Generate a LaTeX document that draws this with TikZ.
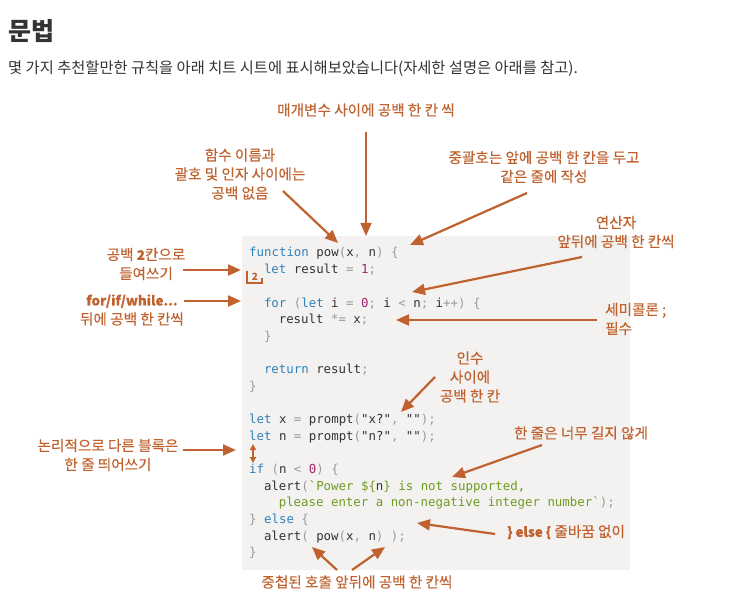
\documentclass[tikz,border=0pt]{standalone}
\usepackage{fontspec}
\setmainfont{Noto Sans CJK KR}
\setmonofont{DejaVu Sans Mono}
\newfontfamily\notefont{Noto Sans CJK KR}[FakeBold=0.35]
\usetikzlibrary{arrows.meta}

\definecolor{noteColor}{HTML}{C0622F}
\definecolor{codeBack}{HTML}{F3F2F0}
\definecolor{jsIdent}{HTML}{333333}
\definecolor{jsKeyword}{HTML}{2F82BA}
\definecolor{jsPunct}{HTML}{9A9A9A}
\definecolor{jsNumber}{HTML}{A0266E}
\definecolor{jsString}{HTML}{6E9B22}

\newcommand\jsKw[1]{\textcolor{jsKeyword}{#1}}
\newcommand\jsPn[1]{\textcolor{jsPunct}{#1}}
\newcommand\jsNum[1]{\textcolor{jsNumber}{#1}}
\newcommand\jsStr[1]{\textcolor{jsString}{#1}}
\newcommand\noteBold[1]{{\fontsize{13.4}{19}\selectfont\bfseries #1}}

\tikzset{
    note/.style={
        text=noteColor,
        font=\notefont\fontsize{14.6}{19}\selectfont,
        align=center,
        inner sep=0pt
    },
    pointer/.style={
        draw=noteColor,
        line width=2.2pt,
        -{Triangle[length=13pt,width=11pt]}
    },
    codeline/.style={
        anchor=base west,
        inner sep=0pt,
        text=jsIdent,
        font=\ttfamily\fontsize{12.4}{16}\selectfont
    }
}

\begin{document}
\begin{tikzpicture}[x=1pt,y=-1pt]
\useasboundingbox (0,0) rectangle (729,615);

% heading
\node[anchor=base west, inner sep=0pt, text=jsIdent,
      font=\fontsize{25}{28}\selectfont\bfseries] (title) at (8,41) {문법};
\node[anchor=base west, inner sep=0pt, text=jsIdent,
      font=\fontsize{15.3}{18}\selectfont] (intro) at (8,74)
    {몇 가지 추천할만한 규칙을 아래 치트 시트에 표시해보았습니다(자세한 설명은 아래를 참고).};

% code sheet
\fill[codeBack] (242,236) rectangle (630,570);

\node[codeline] (l1) at (249,257.0) {\jsKw{function} pow\jsPn{(}x\jsPn{,} n\jsPn{)} \jsPn{\{}};
\node[codeline] (l2) at (263.8,273.6) {\jsKw{let} result \jsPn{=} \jsNum{1}\jsPn{;}};
\node[codeline] (l4) at (263.8,307.0) {\jsKw{for} \jsPn{(}\jsKw{let} i \jsPn{=} \jsNum{0}\jsPn{;} i \jsPn{<} n\jsPn{;} i\jsPn{++)} \jsPn{\{}};
\node[codeline] (l5) at (278.6,323.6) {result \jsPn{*=} x\jsPn{;}};
\node[codeline] (l6) at (263.8,340.3) {\jsPn{\}}};
\node[codeline] (l8) at (263.8,373.6) {\jsKw{return} result\jsPn{;}};
\node[codeline] (l9) at (249,390.2) {\jsPn{\}}};
\node[codeline] (l11) at (249,423.5) {\jsKw{let} x \jsPn{=} prompt\jsPn{(}"x?"\jsPn{,} ""\jsPn{);}};
\node[codeline] (l12) at (249,440.2) {\jsKw{let} n \jsPn{=} prompt\jsPn{(}"n?"\jsPn{,} ""\jsPn{);}};
\node[codeline] (l14) at (249,473.5) {\jsKw{if} \jsPn{(}n \jsPn{<} \jsNum{0}\jsPn{)} \jsPn{\{}};
\node[codeline] (l15) at (263.8,490.2) {alert\jsPn{(}\jsStr{`Power \$\{}n\jsStr{\} is not supported,}};
\node[codeline] (l16) at (278.6,506.8) {\jsStr{please enter a non-negative integer number`}\jsPn{);}};
\node[codeline] (l17) at (249,523.5) {\jsPn{\}} \jsKw{else} \jsPn{\{}};
\node[codeline] (l18) at (263.8,540.1) {alert\jsPn{(} pow\jsPn{(}x\jsPn{,} n\jsPn{)} \jsPn{);}};
\node[codeline] (l19) at (249,556.8) {\jsPn{\}}};

% indent marker and blank-line marker
\draw[noteColor, line width=1.6pt] (247,271) -- (247,283) -- (262,283) -- (262,278);
\node[text=noteColor, inner sep=0pt, font=\fontsize{10}{10}\selectfont\bfseries] (two) at (255,276.5) {2};
\coordinate (gapTop) at (253,444);
\coordinate (gapBottom) at (253,463);
\draw[noteColor, line width=1.5pt, {Triangle[length=6pt,width=6pt]}-{Triangle[length=6pt,width=6pt]}] (gapTop) -- (gapBottom);

% notes
\node[note] (params) at (366,110) {매개변수 사이에 공백 한 칸 씩};
\node[note] (noSpace) at (240,174) {함수 이름과\\괄호 및 인자 사이에는\\공백 없음};
\node[note] (brace) at (544,167) {중괄호는 앞에 공백 한 칸을 두고\\같은 줄에 작성};
\node[note] (operator) at (616,232) {연산자\\앞뒤에 공백 한 칸씩};
\node[note, align=left, anchor=west] (semicolon) at (605,319) {세미콜론 ;\\필수};
\node[note] (indent) at (146,264) {공백 \noteBold{2}칸으로\\들여쓰기};
\node[note] (keyword) at (132,310) {\noteBold{for/if/while...}\\뒤에 공백 한 칸씩};
\node[note] (args) at (470,377) {인수\\사이에\\공백 한 칸};
\node[note] (block) at (108,455) {논리적으로 다른 블록은\\한 줄 띄어쓰기};
\node[note] (long) at (581,433) {한 줄은 너무 길지 않게};
\node[note] (elseNote) at (566,532) {\noteBold{\} else \{} 줄바꿈 없이};
\node[note] (nested) at (357,582) {중첩된 호출 앞뒤에 공백 한 칸씩};

% arrow ends
\coordinate (paramsFrom) at (366,132);  \coordinate (paramsTo) at (366,236);
\coordinate (noSpaceFrom) at (283,191); \coordinate (noSpaceTo) at (338,243);
\coordinate (braceFrom) at (527,193);   \coordinate (braceTo) at (410,245);
\coordinate (operatorFrom) at (582,257);\coordinate (operatorTo) at (412,292);
\coordinate (semicolonFrom) at (597,320);\coordinate (semicolonTo) at (396,320);
\coordinate (indentFrom) at (183,270);  \coordinate (indentTo) at (241,270);
\coordinate (keywordFrom) at (184,301); \coordinate (keywordTo) at (241,301);
\coordinate (argsFrom) at (435,377);    \coordinate (argsTo) at (401,412);
\coordinate (blockFrom) at (183,450);   \coordinate (blockTo) at (236,450);
\coordinate (longFrom) at (542,445);    \coordinate (longTo) at (452,477);
\coordinate (elseFrom) at (495,534);    \coordinate (elseTo) at (417,523);
\coordinate (nestedFromA) at (337,570); \coordinate (nestedToA) at (312,547);
\coordinate (nestedFromB) at (352,570); \coordinate (nestedToB) at (385,547);

\draw[pointer, line width=1.7pt] (paramsFrom) -- (paramsTo);
\foreach \from/\to in {noSpaceFrom/noSpaceTo, braceFrom/braceTo,
    operatorFrom/operatorTo, semicolonFrom/semicolonTo, indentFrom/indentTo,
    keywordFrom/keywordTo, argsFrom/argsTo, blockFrom/blockTo,
    longFrom/longTo, elseFrom/elseTo, nestedFromA/nestedToA, nestedFromB/nestedToB}
    \draw[pointer] (\from) -- (\to);
\end{tikzpicture}
\end{document}
